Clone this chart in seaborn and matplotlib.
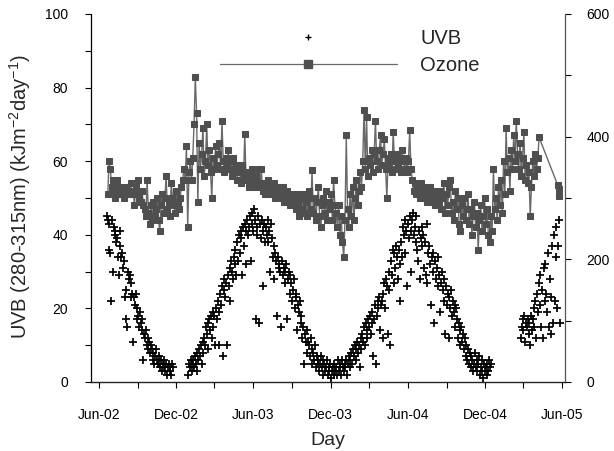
import numpy as np
import pandas as pd
import matplotlib
matplotlib.use("Agg")
import matplotlib.pyplot as plt
import matplotlib.dates as mdates
from matplotlib.lines import Line2D
from matplotlib.ticker import MultipleLocator
import seaborn as sns

sns.set_style("ticks")
plt.rcParams["font.family"] = ["Liberation Sans", "DejaVu Sans"]
plt.rcParams["mathtext.fontset"] = "custom"
plt.rcParams["mathtext.rm"] = "Liberation Sans"
plt.rcParams["mathtext.it"] = "Liberation Sans:italic"

# Daily UVB dose (kJ m-2 day-1), one reading every 2 days per season
uvb_2002 = [45, 44, 36, 43, 35, 22, 44, 30, 42, 40,
            41, 38, 39, 34, 29, 41, 37, 34, 35, 31,
            33, 23, 25, 17, 15, 30, 28, 29, 23, 27,
            24, 11, 23, 21, 24, 17, 20, 18, 15, 19,
            16, 17, 14, 6, 13, 12, 14, 10, 12, 9,
            11, 8, 10, 9, 6, 8, 5, 7, 9, 6,
            5, 7, 5, 4, 6, 3, 5, 4, 6, 3,
            5, 2, 4, 5, 3, 4, 2, 5, 4]
uvb_2003a = [2, 5, 4, 6, 3, 5, 6, 4, 7, 5,
             8, 3, 6, 9, 7, 10, 5, 11, 8, 12,
             10, 15, 13, 16, 9, 17, 14, 18, 12, 19,
             15, 18, 10, 20, 17, 22, 19, 10, 24, 21,
             26, 7, 25, 28, 23, 27, 10, 29, 26, 31,
             22, 33, 30, 28, 34, 32, 36, 29, 38, 33,
             40, 35, 41, 39, 29, 42, 37, 43, 41, 32,
             44, 40, 42, 45, 33, 43, 46, 41, 47, 44,
             17, 42, 40, 45, 16, 43, 39, 44, 26, 41,
             43, 38]
uvb_2003b = [42, 40, 44, 38, 41, 30, 43, 39, 34, 37,
             28, 35, 33, 18, 34, 31, 32, 30, 15, 33,
             29, 31, 27, 30, 32, 17, 28, 30, 24, 29,
             27, 22, 25, 28, 20, 24, 23, 14, 21, 19,
             22, 16, 18, 12, 15, 5, 13, 11, 14, 8,
             11, 10, 7, 12, 9, 5, 8, 6, 10, 4,
             7, 5, 6, 3, 5, 7, 4, 6, 2, 5,
             3, 4, 6, 2, 4, 3, 5, 1, 3, 4,
             2, 5, 3, 4, 2, 6, 3, 5, 4, 2,
             6, 4]
uvb_2004a = [3, 5, 4, 6, 2, 5, 7, 4, 6, 8,
             5, 9, 7, 10, 6, 9, 11, 8, 10, 4,
             12, 9, 13, 11, 15, 10, 16, 14, 12, 17,
             15, 18, 13, 16, 19, 7, 17, 21, 5, 18,
             22, 20, 23, 14, 21, 22, 12, 24, 27, 20,
             28, 26, 13, 30, 25, 10, 33, 29, 36, 27,
             35, 31, 37, 34, 28, 36, 32, 22, 38, 34,
             42, 40, 35, 44, 41, 26, 43, 39, 45, 41,
             30, 44, 46, 40, 42, 38, 45, 36, 33, 41,
             28, 39]
uvb_2004b = [37, 42, 40, 31, 38, 29, 43, 27, 35, 37,
             32, 21, 34, 30, 35, 16, 33, 28, 31, 26,
             34, 29, 19, 27, 30, 25, 28, 22, 13, 26,
             21, 24, 12, 23, 20, 25, 18, 22, 19, 21,
             15, 20, 17, 12, 16, 14, 10, 15, 11, 13,
             9, 12, 7, 10, 6, 9, 5, 8, 4, 7,
             6, 3, 5, 8, 4, 6, 3, 5, 7, 2,
             4, 6, 3, 1, 5, 3, 4, 2, 5, 3,
             6, 4, 5]
uvb_2005 = [12, 15, 17, 14, 18, 11, 16, 15, 17, 13,
            16, 10, 18, 14, 17, 20, 15, 22, 12, 24,
            19, 27, 21, 29, 15, 25, 12, 31, 22, 32,
            24, 19, 35, 15, 28, 13, 23, 37, 16, 40,
            22, 34, 42, 20, 37, 44, 16]

# Total column ozone (DU), one reading every 3 days
ozone_2002 = [306, 360, 348, 318, 330, 312, 300, 330, 318, 312,
              306, 318, 312, 300, 318, 312, 306, 312, 324, 306,
              312, 288, 318, 306, 330, 300, 294, 312, 288, 282,
              270, 330, 276, 258, 288, 264, 294, 270, 282, 300,
              264, 246, 288, 306, 276, 300, 336, 282, 294, 270,
              324, 300, 288, 276, 312, 294, 282, 300, 318, 330]
ozone_2003a = [348, 330, 384, 252, 342, 360, 330, 366, 420, 498,
               438, 294, 390, 348, 372, 414, 336, 360, 420, 354,
               378, 342, 300, 366, 348, 384, 354, 372, 390, 348,
               426, 360, 342, 366, 354, 378, 348, 360, 336, 366,
               342, 354, 330, 348, 342, 324, 354, 336, 405, 330,
               342, 318, 336, 324, 348, 330, 318, 336, 324, 348]
ozone_2003b = [318, 348, 312, 324, 306, 318, 330, 312, 306, 318,
               312, 324, 300, 312, 318, 306, 312, 300, 318, 294,
               306, 312, 294, 300, 288, 306, 294, 300, 282, 306,
               288, 270, 300, 282, 306, 276, 294, 270, 300, 312,
               282, 345, 276, 300, 264, 294, 318, 270, 252, 288,
               300, 276, 312, 264, 294, 282, 306, 264, 330, 288]
ozone_2004a = [276, 252, 288, 240, 270, 228, 204, 264, 402, 282,
               252, 306, 270, 318, 264, 300, 330, 288, 312, 342,
               318, 360, 444, 348, 432, 336, 366, 354, 378, 342,
               372, 426, 360, 348, 378, 402, 354, 372, 396, 348,
               300, 366, 354, 372, 342, 408, 360, 348, 372, 354,
               366, 342, 378, 360, 348, 366, 342, 360, 411, 348]
ozone_2004b = [330, 312, 324, 306, 318, 312, 300, 324, 306, 318,
               300, 312, 294, 306, 318, 300, 294, 312, 288, 306,
               300, 294, 312, 282, 300, 324, 276, 306, 288, 318,
               330, 276, 294, 264, 312, 282, 300, 258, 246, 288,
               270, 300, 264, 282, 306, 258, 282, 240, 270, 294,
               252, 276, 216, 264, 288, 246, 270, 300, 258, 282]
ozone_2005 = [240, 228, 270, 246, 348, 282, 300, 264, 318, 288,
              330, 276, 360, 306, 414, 342, 366, 312, 378, 348,
              402, 360, 426, 372, 348, 390, 336, 366, 408, 330,
              354, 324, 342, 270, 318, 360, 336, 372, 348, 366,
              399]
ozone_may05 = [321, 315, 303]

tick_months_labelled = [6, 12]
tick_months_minor = [3, 9]


def series(segments):
    frames = []
    for start, step, vals in segments:
        dates = pd.date_range(start, periods=len(vals), freq=f"{step}D")
        frames.append(pd.DataFrame({"date": dates, "value": vals}))
    return pd.concat(frames, ignore_index=True)


uvb = series([("2002-06-20", 2, uvb_2002),
              ("2002-12-29", 2, uvb_2003a),
              ("2003-07-01", 2, uvb_2003b),
              ("2004-01-01", 2, uvb_2004a),
              ("2004-07-03", 2, uvb_2004b),
              ("2005-02-23", 2, uvb_2005)])
ozone = series([("2002-06-22", 3, ozone_2002),
                ("2002-12-19", 3, ozone_2003a),
                ("2003-06-17", 3, ozone_2003b),
                ("2003-12-14", 3, ozone_2004a),
                ("2004-06-11", 3, ozone_2004b),
                ("2004-12-08", 3, ozone_2005),
                ("2005-05-21", 2, ozone_may05)])

fig = plt.figure(figsize=(6.14, 4.51), dpi=100)
ax = fig.add_axes([0.148, 0.153, 0.772, 0.816])
ax2 = ax.twinx()

oz_line = "#6a6a6a"
oz_mark = "#4f4f4f"

sns.scatterplot(data=uvb, x="date", y="value", ax=ax, marker="+",
                color="black", s=38, linewidth=1.25, legend=False)
sns.lineplot(data=ozone, x="date", y="value", ax=ax2, color=oz_line,
             lw=1.0, marker="s", markersize=4.3, markerfacecolor=oz_mark,
             markeredgecolor=oz_mark, estimator=None, sort=False,
             legend=False)

ax.set_xlim(pd.Timestamp("2002-05-13"), pd.Timestamp("2005-06-07"))
ax.set_ylim(0, 100)
ax2.set_ylim(0, 600)

ax.yaxis.set_major_locator(MultipleLocator(20))
ax.yaxis.set_minor_locator(MultipleLocator(10))
ax2.yaxis.set_major_locator(MultipleLocator(200))
ax2.yaxis.set_minor_locator(MultipleLocator(100))
ax.xaxis.set_major_locator(mdates.MonthLocator(bymonth=tick_months_labelled))
ax.xaxis.set_minor_locator(mdates.MonthLocator(bymonth=tick_months_minor))
ax.xaxis.set_major_formatter(mdates.DateFormatter("%b-%y"))

for a in (ax, ax2):
    a.tick_params(which="both", direction="out", length=4.5, width=0.8,
                  colors="black", labelsize=10)
    a.spines["top"].set_visible(False)
ax.spines["right"].set_visible(False)
ax2.spines["left"].set_visible(False)
ax.tick_params(axis="x", which="major", pad=14)
ax.tick_params(axis="y", which="major", pad=12)
ax2.tick_params(axis="y", which="major", pad=11)
for s in ("left", "bottom"):
    ax.spines[s].set_linewidth(0.9)
    ax.spines[s].set_color("black")
ax2.spines["right"].set_linewidth(0.9)
ax2.spines["right"].set_color("#555555")

ax.set_xlabel("Day", fontsize=14)
ax.set_ylabel(r"UVB (280-315nm) (kJm$^{-2}$day$^{-1}$)", fontsize=14.5)
ax2.set_ylabel("")
ax.xaxis.set_label_coords(0.5, -0.135)
ax.yaxis.set_label_coords(-0.123, 0.505)

h_uvb = Line2D([], [], ls="none", marker="+", color="black",
               markersize=5, mew=1.0)
h_oz = Line2D([], [], color=oz_line, lw=0.9, marker="s", markersize=6,
              mfc=oz_mark, mec=oz_mark)
ax2.legend([h_uvb, h_oz], ["UVB", "Ozone"], loc="upper left",
           bbox_to_anchor=(0.358, 0.935), bbox_transform=fig.transFigure,
           frameon=False, fontsize=14.5, handlelength=8.8, handletextpad=1.15,
           labelspacing=0.4, borderpad=0, borderaxespad=0, numpoints=1)

fig.savefig("out.png", dpi=100)
